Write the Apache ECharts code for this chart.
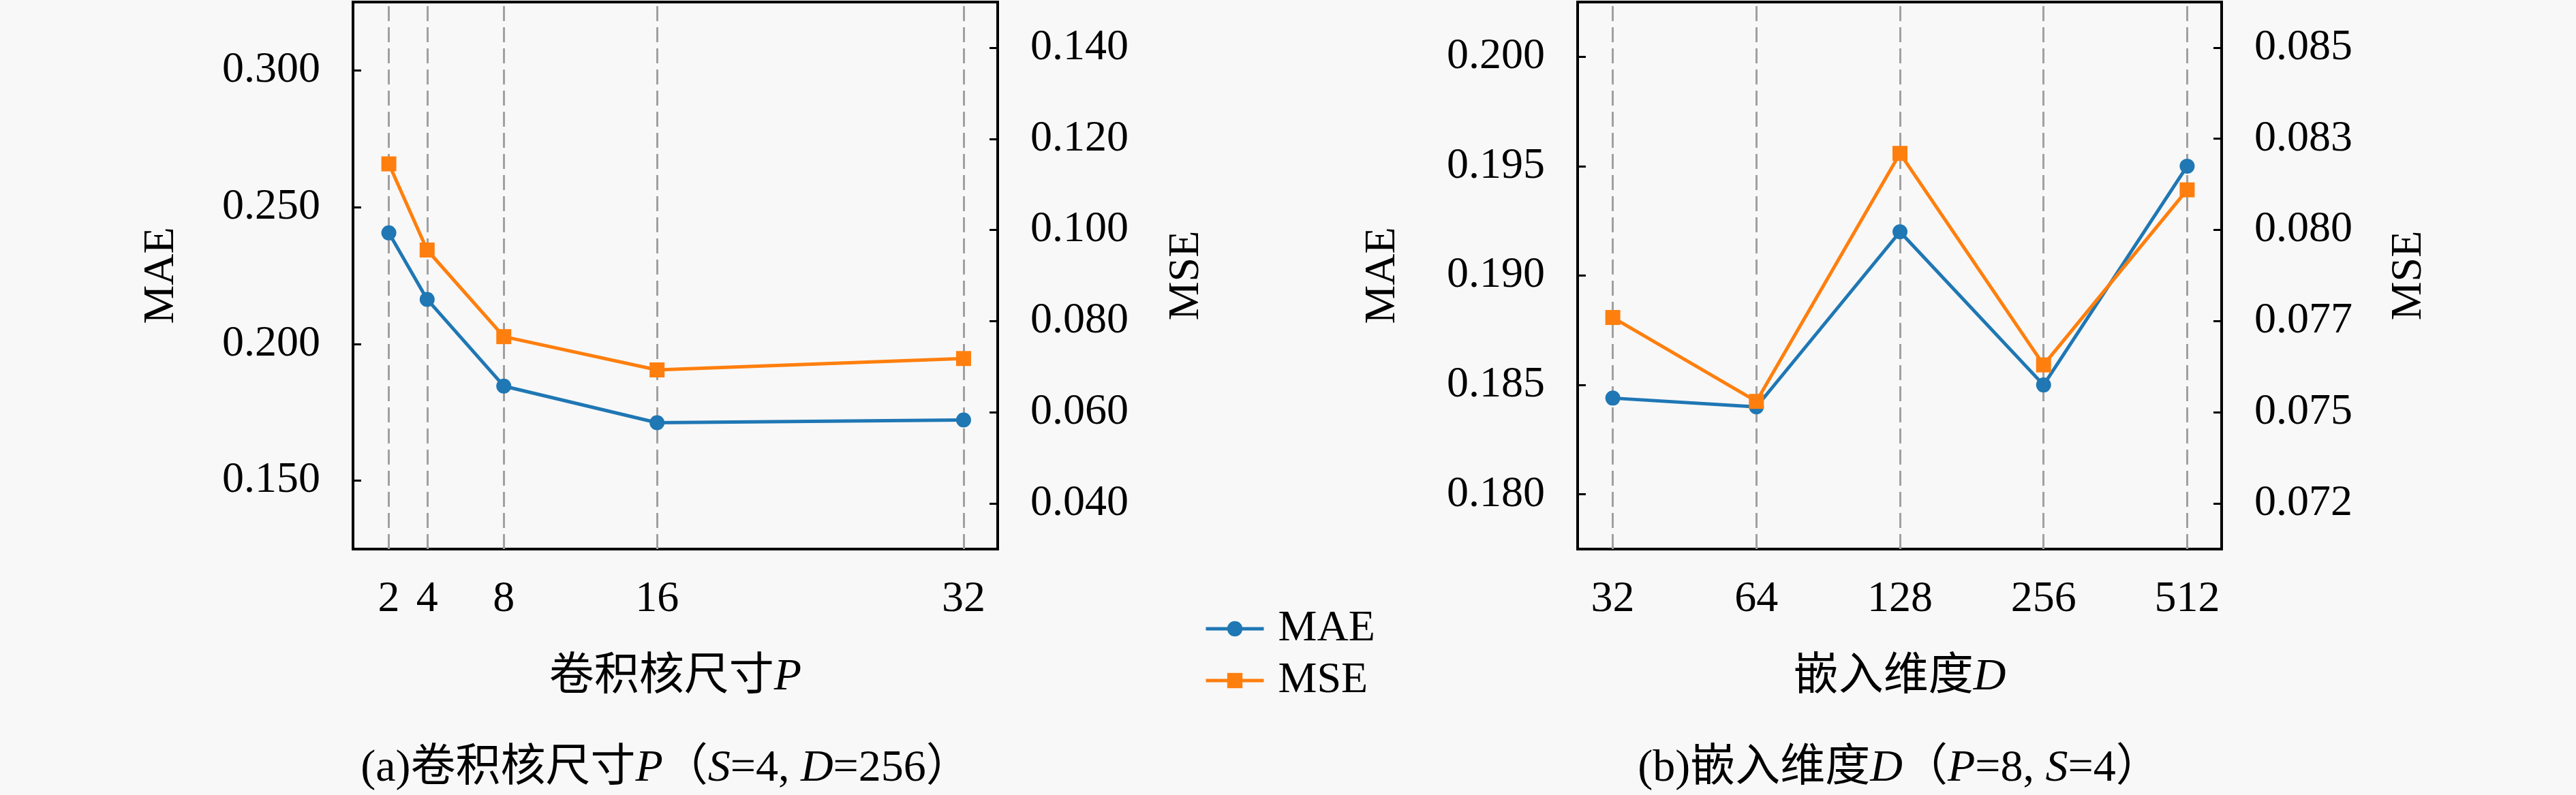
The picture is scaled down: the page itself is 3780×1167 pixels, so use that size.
<!DOCTYPE html>
<html>
<head>
<meta charset="utf-8">
<script src="https://cdn.jsdelivr.net/npm/echarts@6.0.0/dist/echarts.min.js"></script>
<style>
  html, body { margin: 0; padding: 0; background: #f8f8f8; }
  #main { width: 3780px; height: 1167px; }
</style>
</head>
<body>
<div id="main"></div>
<script>
// (a) kernel size P
const kernelSizes = [2, 4, 8, 16, 32];
const kernelMAE = [0.2406, 0.2163, 0.1846, 0.1712, 0.1722];
const kernelMSE = [0.1145, 0.0956, 0.0766, 0.0693, 0.0718];
const maeTicksA = [0.15, 0.2, 0.25, 0.3];
const mseTicksA = [0.04, 0.06, 0.08, 0.1, 0.12, 0.14];

// (b) embedding dim D
const embedDims = ['32', '64', '128', '256', '512'];
const embedMAE = [0.1844, 0.1840, 0.1920, 0.1850, 0.1950];
const embedMSE = [0.0776, 0.0753, 0.0821, 0.0763, 0.0811];
const maeTicksB = [0.18, 0.185, 0.19, 0.195, 0.2];
const mseTicksB = [0.0725, 0.075, 0.0775, 0.08, 0.0825, 0.085];
const mseLabelsB = ['0.072', '0.075', '0.077', '0.080', '0.083', '0.085'];

const BLUE = '#1f77b4';
const ORANGE = '#ff7f0e';
const FONT = "'Liberation Serif', 'Noto Sans CJK SC', serif";
const FS = 64;

const chart = echarts.init(document.getElementById('main'), null, { width: 3780, height: 1167 });

const italic = { fontStyle: 'italic', fontFamily: FONT, fontSize: 66, color: '#000' };

function yAxis(grid, pos, min, max, ticks, fmt, name, gap) {
  return {
    type: 'value', gridIndex: grid, position: pos, min: min, max: max,
    name: name, nameLocation: 'middle', nameGap: gap, nameRotate: 90,
    nameTextStyle: { fontFamily: FONT, fontSize: FS, color: '#000' },
    axisLine: { show: false, onZero: false },
    axisTick: { show: true, inside: true, length: 12, customValues: ticks, lineStyle: { color: '#000', width: 3 } },
    axisLabel: { customValues: ticks, formatter: fmt, margin: 48, fontFamily: FONT, fontSize: FS, color: '#000' },
    splitLine: { show: false }
  };
}

function vlines(xs) {
  return {
    silent: true, symbol: 'none', z: 1,
    label: { show: false },
    emphasis: { disabled: true },
    lineStyle: { color: '#a0a0a0', type: [22, 9], width: 3 },
    data: xs.map(function (x) { return { xAxis: x }; })
  };
}

function lineSeries(name, xi, yi, data, symbol, color, marks) {
  const s = {
    name: name, type: 'line', xAxisIndex: xi, yAxisIndex: yi, data: data,
    symbol: symbol, symbolSize: 22, color: color,
    lineStyle: { width: 5, color: color }, itemStyle: { color: color }
  };
  if (marks) s.markLine = vlines(marks);
  return s;
}

const option = {
  backgroundColor: '#f8f8f8',
  animation: false,
  title: [
    {
      text: '(a)卷积核尺寸{i|P}（{i|S}=4, {i|D}=256）',
      left: 977, top: 1096, textAlign: 'center', padding: 0,
      textStyle: { fontFamily: FONT, fontSize: 66, fontWeight: 'normal', color: '#000', rich: { i: italic } }
    },
    {
      text: '(b)嵌入维度{i|D}（{i|P}=8, {i|S}=4）',
      left: 2787, top: 1096, textAlign: 'center', padding: 0,
      textStyle: { fontFamily: FONT, fontSize: 66, fontWeight: 'normal', color: '#000', rich: { i: italic } }
    }
  ],
  legend: {
    orient: 'vertical', left: 1762, top: 886, itemWidth: 85, itemHeight: 28, itemGap: 12,
    data: ['MAE', 'MSE'],
    lineStyle: { width: 5 },
    textStyle: { fontFamily: FONT, fontSize: FS, color: '#000', padding: [0, 0, 0, 16] }
  },
  grid: [
    { left: 518, top: 3, width: 946, height: 803, show: true, borderColor: '#000', borderWidth: 4, backgroundColor: 'transparent' },
    { left: 2315, top: 3, width: 945, height: 803, show: true, borderColor: '#000', borderWidth: 4, backgroundColor: 'transparent' }
  ],
  xAxis: [
    {
      type: 'value', gridIndex: 0, min: 0.13, max: 33.78,
      name: '卷积核尺寸{i|P}', nameLocation: 'middle', nameGap: 156,
      nameTextStyle: { fontFamily: FONT, fontSize: 66, color: '#000', rich: { i: italic } },
      axisLine: { show: false, onZero: false },
      axisTick: { show: true, inside: true, length: 14, customValues: kernelSizes, lineStyle: { color: '#000', width: 3 } },
      axisLabel: { customValues: kernelSizes, margin: 42, fontFamily: FONT, fontSize: FS, color: '#000' },
      splitLine: { show: false }
    },
    {
      type: 'value', gridIndex: 1, min: -0.245, max: 4.24,
      name: '嵌入维度{i|D}', nameLocation: 'middle', nameGap: 156,
      nameTextStyle: { fontFamily: FONT, fontSize: 66, color: '#000', rich: { i: italic } },
      axisLine: { show: false, onZero: false },
      axisTick: { show: true, inside: true, length: 14, customValues: [0, 1, 2, 3, 4], lineStyle: { color: '#000', width: 3 } },
      axisLabel: {
        customValues: [0, 1, 2, 3, 4], margin: 42, fontFamily: FONT, fontSize: FS, color: '#000',
        formatter: function (v) { return embedDims[Math.round(v)]; }
      },
      splitLine: { show: false }
    }
  ],
  yAxis: [
    yAxis(0, 'left', 0.125, 0.325, maeTicksA, function (v) { return v.toFixed(3); }, 'MAE', 249),
    yAxis(0, 'right', 0.03, 0.15, mseTicksA, function (v) { return v.toFixed(3); }, 'MSE', 245),
    yAxis(1, 'left', 0.1775, 0.2025, maeTicksB, function (v) { return v.toFixed(3); }, 'MAE', 254),
    yAxis(1, 'right', 0.07125, 0.08625, mseTicksB, function (v) {
      let best = 0;
      mseTicksB.forEach(function (t, i) { if (Math.abs(t - v) < Math.abs(mseTicksB[best] - v)) best = i; });
      return mseLabelsB[best];
    }, 'MSE', 243)
  ],
  series: [
    lineSeries('MAE', 0, 0, kernelSizes.map(function (p, i) { return [p, kernelMAE[i]]; }), 'circle', BLUE, kernelSizes),
    lineSeries('MSE', 0, 1, kernelSizes.map(function (p, i) { return [p, kernelMSE[i]]; }), 'rect', ORANGE),
    lineSeries('MAE', 1, 2, embedDims.map(function (d, i) { return [i, embedMAE[i]]; }), 'circle', BLUE, [0, 1, 2, 3, 4]),
    lineSeries('MSE', 1, 3, embedDims.map(function (d, i) { return [i, embedMSE[i]]; }), 'rect', ORANGE)
  ]
};

chart.setOption(option);
</script>
</body>
</html>
